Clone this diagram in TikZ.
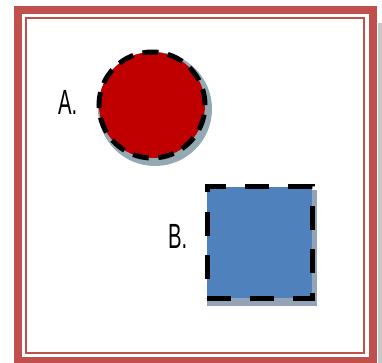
\documentclass[tikz,border=0pt]{standalone}
\usepackage{fontspec}
\usepackage{tikz}
\usetikzlibrary{positioning}
\newfontfamily\labelfont[FakeStretch=0.58]{Liberation Sans}
\definecolor{frame}{HTML}{C0504D}
\definecolor{shapeA}{HTML}{C00000}
\definecolor{shapeB}{HTML}{4F81BD}
\definecolor{shadowA}{HTML}{93A9B4}
\definecolor{shadowB}{HTML}{95A3B6}
\definecolor{pageshadow}{HTML}{C8C8C8}

\begin{document}
\begin{tikzpicture}[x=1pt,y=-1pt,
lbl/.style={font=\labelfont\fontsize{35}{35}\selectfont,inner sep=0pt},
rim/.style={draw=black,line width=5pt},
disc/.style={circle,rim,fill=shapeA,minimum size=106pt,inner sep=0pt,dash pattern=on 16pt off 9.6pt},
box/.style={rectangle,rim,fill=shapeB,minimum width=105pt,minimum height=111pt,inner sep=0pt,dash pattern=on 24pt off 19.2pt}]
\useasboundingbox (0,0) rectangle (382,363);
\fill[white] (0,0) rectangle (382,363);
% page frame
\fill[pageshadow] (378,23) rectangle (382,363);
\draw[frame,line width=8pt] (18,10) rectangle (372.5,361);
\draw[frame,line width=2pt] (26,18) rectangle (364,353);
% shadows
\fill[shadowA] (155,109) circle (57);
\fill[shadowB] (207,190) rectangle (317,306);
% shapes
\node[disc] (red) at (152,105) {};
\node[box] (blue) at (259.5,242.5) {};
\node[lbl,left=19pt of red,yshift=3pt] (labA) {A.};
\node[lbl,left=17pt of blue,yshift=6pt] (labB) {B.};
\end{tikzpicture}
\end{document}
